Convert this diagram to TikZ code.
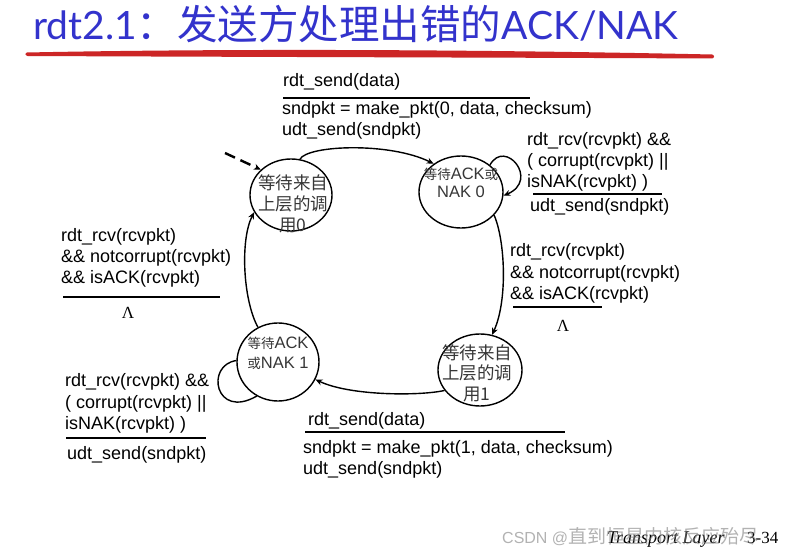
\documentclass[tikz,border=0pt]{standalone}
\usepackage{fontspec}
\setmainfont{Liberation Sans}
\newfontfamily\cjk{Noto Sans CJK SC}
\newfontfamily\ttl{Lato}
\newfontfamily\ftserif{Liberation Serif}
\usetikzlibrary{shapes.geometric,arrows.meta}
\definecolor{titleblue}{RGB}{51,51,204}
\definecolor{brushred}{RGB}{204,38,38}
\definecolor{statetext}{RGB}{55,55,55}
\tikzset{
  statenode/.style={draw, ellipse, line width=1.4pt, inner sep=0pt},
  stext/.style={align=center, inner sep=0pt, text=statetext},
  lbl/.style={anchor=base west, inner sep=0pt, font=\fontsize{18}{21}\selectfont},
  rulebar/.style={line width=2.8pt},
  edge/.style={line width=1.4pt, -{Stealth[length=7pt,width=6pt]}},
  lam/.style={inner sep=0pt, font=\ftserif\fontsize{17}{17}\selectfont}
}
\begin{document}
\begin{tikzpicture}[x=1pt,y=1pt]
\fill[white] (0,0) rectangle (788,-556);
\useasboundingbox (0,0) rectangle (788,-556);

% title
\node[anchor=base west, inner sep=0pt, text=titleblue] (title) at (33,-40)
  {\ttl\fontsize{39}{40}\selectfont rdt2.1\cjk\fontsize{40.5}{40}\selectfont ：发送方处理出错的\ttl\fontsize{39}{40}\selectfont ACK/NAK};
\fill[brushred] (27,-52.5) .. controls (250,-48) and (500,-50) .. (712,-54.5)
   arc[start angle=90, end angle=-90, radius=2pt]
   .. controls (500,-57.5) and (250,-57) .. (27,-56)
   arc[start angle=270, end angle=90, radius=1.75pt] -- cycle;

% states
\node[statenode, minimum width=82pt, minimum height=72pt] (A) at (291,-195) {};
\node[statenode, minimum width=84pt, minimum height=72pt] (B) at (461,-192) {};
\node[statenode, minimum width=82pt, minimum height=78pt] (C) at (278,-362) {};
\node[statenode, minimum width=84pt, minimum height=72pt] (D) at (480,-370) {};

\node[stext, font=\cjk\fontsize{17.5}{21}\selectfont] (At) at (293,-204)
  {等待来自\\上层的调\\用0};
\node[stext, font=\fontsize{16.5}{18}\selectfont] (Bt) at (461,-183)
  {{\cjk\fontsize{13.5}{18}\selectfont 等待}ACK{\cjk\fontsize{13.5}{18}\selectfont 或}\\NAK 0};
\node[stext, font=\fontsize{16.5}{20}\selectfont] (Ct) at (278,-353)
  {{\cjk\fontsize{13.5}{20}\selectfont 等待}ACK\\{\cjk\fontsize{13.5}{20}\selectfont 或}NAK 1};
\node[stext, font=\cjk\fontsize{17.5}{20.5}\selectfont] (Dt) at (477,-373)
  {等待来自\\上层的调\\用1};

% transitions
\draw[edge] (A.76) .. controls (308,-145) and (390,-142) .. (B.134);
\draw[edge] (B.43) .. controls (505,-138) and (540,-180) .. (B.-5);
\draw[edge] (B.-35) .. controls (505,-240) and (508,-300) .. (D.71);
\draw[edge] (D.210) .. controls (420,-396) and (350,-396) .. (C.-25);
\draw[line width=1.4pt] (C.178) .. controls (205,-365) and (215,-420) .. (C.238);
\draw[edge] (C.120) .. controls (243,-300) and (240,-240) .. (A.205);
\coordinate (init) at (225,-153);
\draw[edge, line width=2.4pt, dash pattern=on 11pt off 6pt] (init) -- (A.140);

% top label
\node[lbl] (t1) at (283,-87) {rdt\_send(data)};
\draw[rulebar] (283,-98) -- (530,-98);
\node[lbl] (t2) at (282,-115) {sndpkt = make\_pkt(0, data, checksum)};
\node[lbl] (t3) at (282,-136) {udt\_send(sndpkt)};

% right top label
\node[lbl] (r1) at (527,-146) {rdt\_rcv(rcvpkt) \&\&};
\node[lbl] (r2) at (527,-167) {( corrupt(rcvpkt) ||};
\node[lbl] (r3) at (527,-188) {isNAK(rcvpkt) )};
\draw[rulebar] (533,-194) -- (662,-194);
\node[lbl] (r4) at (530,-212) {udt\_send(sndpkt)};

% right middle label
\node[lbl] (m1) at (510,-257) {rdt\_rcv(rcvpkt)};
\node[lbl] (m2) at (510,-279) {\&\& notcorrupt(rcvpkt)};
\node[lbl] (m3) at (510,-300) {\&\& isACK(rcvpkt)};
\draw[rulebar] (513,-307) -- (602,-307);
\node[lam] (m4) at (563,-326) {Λ};

% left label
\node[lbl] (l1) at (61,-242) {rdt\_rcv(rcvpkt)};
\node[lbl] (l2) at (61,-263) {\&\& notcorrupt(rcvpkt)};
\node[lbl] (l3) at (61,-284) {\&\& isACK(rcvpkt)};
\draw[rulebar] (63,-297) -- (220,-297);
\node[lam] (l4) at (128,-313) {Λ};

% bottom left label
\node[lbl] (b1) at (65,-387) {rdt\_rcv(rcvpkt) \&\&};
\node[lbl] (b2) at (65,-408) {( corrupt(rcvpkt) ||};
\node[lbl] (b3) at (65,-429) {isNAK(rcvpkt) )};
\draw[rulebar] (66,-438) -- (206,-438);
\node[lbl] (b4) at (67,-459) {udt\_send(sndpkt)};

% bottom label
\node[lbl] (s1) at (308,-425) {rdt\_send(data)};
\draw[rulebar] (305,-432) -- (565,-432);
\node[lbl] (s2) at (303,-453) {sndpkt = make\_pkt(1, data, checksum)};
\node[lbl] (s3) at (303,-474) {udt\_send(sndpkt)};

% footer
\node[anchor=base west, inner sep=0pt] (foot) at (607,-543)
  {\ftserif\itshape\fontsize{18}{20}\selectfont Transport Layer};
\node[anchor=base west, inner sep=0pt] (pg) at (747,-543)
  {\ftserif\fontsize{17}{20}\selectfont 3-34};
\node[anchor=base west, inner sep=0pt, text=gray, opacity=0.6] (wm) at (502,-543)
  {\fontsize{16}{18}\selectfont CSDN @{\cjk\fontsize{19}{20}\selectfont 直到恒星内核反应殆尽}};
\end{tikzpicture}
\end{document}
